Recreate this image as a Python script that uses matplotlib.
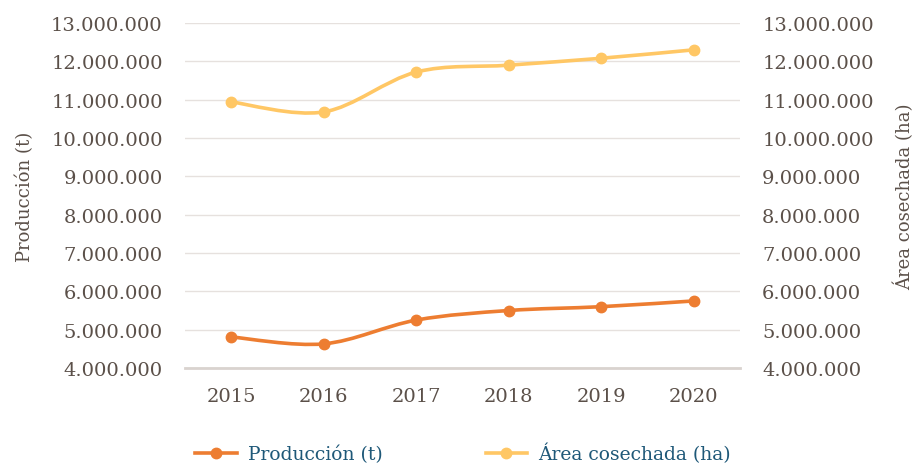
import numpy as np
import matplotlib.pyplot as plt
from matplotlib.path import Path
from matplotlib.patches import PathPatch
from matplotlib.lines import Line2D
from matplotlib.ticker import FuncFormatter

years = ["2015", "2016", "2017", "2018", "2019", "2020"]
produccion = [4810000, 4630000, 5250000, 5500000, 5600000, 5750000]
area = [10940000, 10680000, 11720000, 11900000, 12080000, 12300000]

c_prod = "#ED7D31"
c_area = "#FFC765"
c_text = "#5B5049"
c_leg = "#1E5878"

plt.rcParams["font.family"] = ["DejaVu Serif"]


def smooth_path(xs, ys):
    # bezier curve through the points (catmull-rom style control points)
    p = np.column_stack([xs, ys]).astype(float)
    n = len(p)
    verts = [p[0]]
    codes = [Path.MOVETO]
    for i in range(n - 1):
        p0 = p[i - 1] if i > 0 else p[i]
        p3 = p[i + 2] if i + 2 < n else p[i + 1]
        c1 = p[i] + (p[i + 1] - p0) / 6
        c2 = p[i + 1] - (p3 - p[i]) / 6
        verts += [c1, c2, p[i + 1]]
        codes += [Path.CURVE4] * 3
    return Path(verts, codes)


fig = plt.figure(figsize=(9.17, 4.64), dpi=100)
ax = fig.add_axes([0.2017, 0.2047, 0.6053, 0.7436])
ax2 = ax.twinx()

x = np.arange(len(years))
for vals, col in [(area, c_area), (produccion, c_prod)]:
    ax.add_patch(PathPatch(smooth_path(x, vals), fill=False, edgecolor=col,
                           lw=2.6, capstyle="round", zorder=3))
    ax.plot(x, vals, "o", color=col, ms=7.5, zorder=4)

ticks = np.arange(4000000, 13000001, 1000000)
fmt = FuncFormatter(lambda v, p: f"{int(v):,}".replace(",", "."))
for a in (ax, ax2):
    a.set_ylim(4000000, 13000000)
    a.set_yticks(ticks)
    a.yaxis.set_major_formatter(fmt)
    a.tick_params(axis="y", length=0, labelsize=14, colors=c_text, pad=16)
    for s in a.spines.values():
        s.set_visible(False)

ax.set_xlim(-0.5, len(years) - 0.5)
ax.set_xticks(x)
ax.set_xticklabels(years)
ax.tick_params(axis="x", length=0, labelsize=14, colors=c_text, pad=14)
ax.grid(axis="y", color="#E6E1DE", lw=1)
ax.spines["bottom"].set_visible(True)
ax.spines["bottom"].set_color("#D9D3CF")
ax.spines["bottom"].set_linewidth(2)
ax.set_axisbelow(True)

ax.set_ylabel("Producción (t)", fontsize=13, color=c_text, labelpad=12)
ax2.set_ylabel("Área cosechada (ha)", fontsize=13, color=c_text, rotation=90, labelpad=14)

handles = [Line2D([], [], color=c_prod, lw=2.6, marker="o", ms=7.5),
           Line2D([], [], color=c_area, lw=2.6, marker="o", ms=7.5)]
leg = fig.legend(handles, ["Producción (t)", "Área cosechada (ha)"], loc="lower center",
                 bbox_to_anchor=(0.505, -0.037), ncol=2, frameon=False, fontsize=13.5,
                 columnspacing=5.5, handlelength=2.2, handletextpad=0.6)
for t in leg.get_texts():
    t.set_color(c_leg)

fig.savefig("out.png", dpi=100)
